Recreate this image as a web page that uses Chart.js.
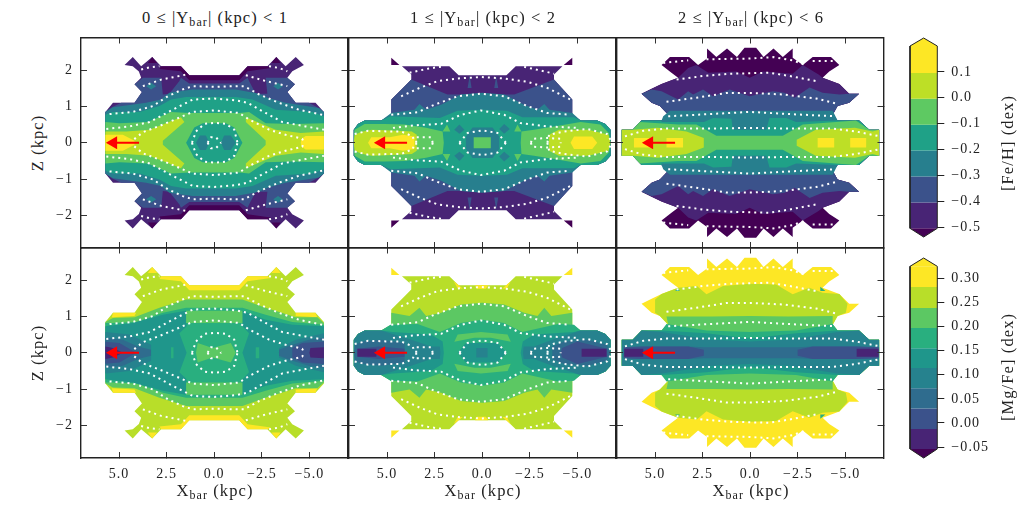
<!DOCTYPE html>
<html>
<head>
<meta charset="utf-8">
<script src="https://cdn.jsdelivr.net/npm/chart.js@4"></script>
<style>
  html, body { margin: 0; background: #fff; }
  #fig { position: relative; width: 1019px; height: 510px; overflow: hidden; }
  canvas { position: absolute; }
  .lab { position: absolute; font: 16.5px 'Liberation Serif', serif; letter-spacing: 1.1px; color: #222; white-space: nowrap; transform: translate(-50%, -50%); }
  .lab.rot { transform: translate(-50%, -50%) rotate(-90deg); }
  .lab sub { font-size: 12px; line-height: 0; vertical-align: -3px; }
</style>
</head>
<body>
<div id="fig"></div>
<script>
// tick values and labels
const xTicks = [5, 2.5, 0, -2.5, -5];
const xTickLabels = ['5.0', '2.5', '0.0', '\u22122.5', '\u22125.0'];
const zTicks = [2, 1, 0, -1, -2];
const zTickLabels = ['2', '1', '0', '\u22121', '\u22122'];
const feTicks = [0.1, 0, -0.1, -0.2, -0.3, -0.4, -0.5];
const feTickLabels = ['0.1', '0.0', '\u22120.1', '\u22120.2', '\u22120.3', '\u22120.4', '\u22120.5'];
const mgTicks = [0.3, 0.25, 0.2, 0.15, 0.1, 0.05, 0, -0.05];
const mgTickLabels = ['0.30', '0.25', '0.20', '0.15', '0.10', '0.05', '0.00', '\u22120.05'];

// colour bands, lowest first
const feColors = ['#440154', '#482475', '#3b528b', '#277f8e', '#1fa187', '#5ec962', '#bddf26', '#fde725'];
const mgColors = ['#440154', '#482475', '#3b528b', '#2f6c8e', '#26828e', '#1f968b', '#29af7f', '#5cc863', '#b8de29', '#fde725'];
const feLevels = [-0.505, -0.405, -0.305, -0.204, -0.104, -0.004, 0.096, 0.2];
const mgLevels = [-0.054, -0.0127, 0.03, 0.072, 0.114, 0.155, 0.197, 0.2384, 0.282, 0.325];

// all maps are mirrored about Z = 0, so only the upper edge (x, z) of each contour is listed
const out1 = [[5.72,0],[5.72,.85],[5.32,1.10],[4.19,1.10],[3.80,1.40],[4.19,1.61],[3.84,1.79],[3.96,1.96],[4.28,2.11],[4.71,2.14],[4.28,2.36],[3.84,2.11],[3.26,2.36],[2.79,2.11],[1.75,2.11],[1.31,1.86],[-1.31,1.86],[-1.75,2.11],[-2.79,2.11],[-3.26,2.36],[-3.75,2.11],[-4.28,2.36],[-4.71,2.14],[-4.10,1.97],[-3.84,1.79],[-4.24,1.61],[-3.84,1.40],[-4.28,1.10],[-5.32,1.10],[-5.76,.85],[-5.76,0]];
const cap1 = [[2.79,2.11],[1.75,2.11],[1.31,1.86],[-1.31,1.86],[-1.75,2.11],[-2.79,2.11],[-2.97,2.06],[-1.75,1.97],[-1.31,1.72],[1.31,1.72],[1.75,1.97],[2.88,2.03],[2.79,2.11]];
const spike1a = [[3.26,2.36],[3.0,2.2],[3.49,2.2],[3.26,2.36]];
const spike1b = [[-3.26,2.36],[-3.49,2.2],[-3.0,2.2],[-3.26,2.36]];

const feBands1 = [
  [1, out1], [0, cap1], [0, spike1a], [0, spike1b],
  [2, [[5.72,0],[5.72,.85],[5.38,.98],[4.89,1.10],[4.19,1.10],[3.80,1.40],[4.19,1.61],[3.75,1.79],[2.79,1.79],[2.70,1.33],[2.36,1.35],[1.83,1.70],[1.75,1.79],[1.31,1.63],[-1.31,1.63],[-1.75,1.79],[-1.83,1.70],[-2.18,1.35],[-2.79,1.35],[-2.70,1.79],[-3.84,1.79],[-4.24,1.61],[-3.84,1.40],[-4.28,1.10],[-4.97,1.10],[-5.41,.98],[-5.76,.85],[-5.76,0]]],
  [3, [[3.58,1.56],[3.32,1.65],[3.05,1.56],[3.32,1.47],[3.58,1.56]]],
  [3, [[-3.1,1.56],[-3.35,1.65],[-3.6,1.56],[-3.35,1.47],[-3.1,1.56]]],
  [3, [[5.72,0],[5.72,.85],[5.32,.98],[3.58,1.10],[2.79,1.19],[2.36,1.38],[1.13,1.47],[-1.13,1.47],[-2.36,1.35],[-2.79,1.24],[-3.75,1.10],[-5.5,.96],[-5.76,.85],[-5.76,0]]],
  [4, [[5.72,0],[5.72,.77],[5.32,.85],[3.93,.85],[2.88,1.01],[2.27,1.19],[1.48,1.26],[-1.13,1.26],[-2.01,1.19],[-3.23,.91],[-5.15,.85],[-5.76,.73],[-5.76,0]]],
  [5, [[5.72,0],[5.72,.57],[4.98,.54],[3.49,.57],[2.27,.85],[1.31,.82],[-1.31,.82],[-1.83,.85],[-2.7,.54],[-4.1,.52],[-5.76,.54],[-5.76,0]]],
  [6, [[5.72,0],[5.72,.31],[4.62,.31],[3.4,.36],[1.75,.70],[1.57,.57],[2.7,.055],[2.7,0],[-2.7,0],[-2.7,.06],[-1.66,.57],[-1.66,.70],[-3.23,.36],[-4.54,.27],[-5.76,.31],[-5.76,0]]],
  [7, [[5.72,0],[5.72,.22],[4.8,.22],[4.19,.055],[4.19,0],[-4.54,0],[-4.59,.11],[-4.8,.185],[-5.76,.185],[-5.76,0]]],
  [4, [[1.48,0],[1.05,.42],[.61,.54],[-.61,.54],[-1.05,.42],[-1.48,0]]],
  [3, [[.96,0],[.75,.20],[.44,.20],[.26,0],[-.35,0],[-.52,.20],[-.87,.20],[-1.13,0]]]
];

const mgBands1 = [
  [8, out1], [9, cap1], [9, spike1a], [9, spike1b],
  [9, [[5.32,1.10],[4.10,1.10],[4.19,1.01],[5.38,.98],[5.32,1.10]]],
  [9, [[-4.28,1.10],[-5.32,1.10],[-5.41,.98],[-4.28,1.01],[-4.28,1.10]]],
  [7, [[5.72,0],[5.72,.85],[5.32,.96],[4.19,.98],[2.88,1.24],[1.48,1.47],[-1.48,1.47],[-2.7,1.24],[-4.28,.98],[-5.41,.98],[-5.76,.82],[-5.76,0]]],
  [6, [[5.72,0],[5.72,.82],[5.32,.82],[4.10,.85],[2.7,1.10],[1.48,1.24],[-1.48,1.24],[-2.7,1.05],[-4.10,.85],[-5.76,.77],[-5.76,0]]],
  [5, [[5.72,0],[5.72,.73],[4.28,.82],[2.7,1.05],[1.48,1.16],[1.45,.73],[1.83,.54],[1.45,0],[-1.48,0],[-1.83,.54],[-1.48,.73],[-1.48,1.16],[-2.7,.91],[-4.10,.77],[-5.76,.73],[-5.76,0]]],
  [7, [[1.48,.82],[1.48,1.16],[-1.48,1.16],[-1.48,.82],[1.48,.82]]],
  [4, [[5.72,0],[5.72,.57],[4.45,.50],[3.32,.22],[3.32,0],[-3.4,0],[-3.4,.13],[-4.28,.36],[-5.76,.54],[-5.76,0]]],
  [3, [[5.72,0],[5.72,.41],[4.8,.36],[4.01,.17],[3.32,.08],[3.32,0],[-3.4,0],[-3.4,.08],[-4.1,.22],[-4.97,.36],[-5.76,.41],[-5.76,0]]],
  [2, [[5.72,0],[5.72,.30],[4.98,.27],[4.1,0],[-4.1,0],[-4.1,.13],[-4.63,.27],[-5.76,.31],[-5.76,0]]],
  [1, [[5.72,0],[5.72,.175],[5.32,.13],[4.8,0],[-5.0,0],[-5.05,.13],[-5.76,.15],[-5.76,0]]],
  [6, [[2.27,0],[2.27,.15],[2.14,.15],[2.14,0]]],
  [6, [[-2.18,0],[-2.18,.15],[-2.36,.15],[-2.36,0]]],
  [7, [[.96,0],[.87,.27],[.09,.13],[-.87,.27],[-1.13,0]]]
];

const lobeL2 = [[6.75,0],[6.75,.36],[6.53,.52],[6.18,.61],[5.31,.61]];
const lobeR2 = [[-5.17,.61],[-6.04,.61],[-6.47,.52],[-6.74,.36],[-6.74,0]];
const out2 = [...lobeL2,[4.78,.77],[4.78,1.19],[4.17,1.51],[3.73,1.74],[3.73,1.88],[4.22,2.11],[1.73,2.11],[1.24,1.86],[-1.27,1.86],[-1.76,2.11],[-4.21,2.11],[-3.77,1.88],[-3.77,1.74],[-4.73,1.19],[-4.73,.77],...lobeR2];
const spike2a = [[4.78,2.34],[4.35,2.14],[4.78,2.14],[4.78,2.34]];
const spike2b = [[-4.73,2.34],[-4.73,2.14],[-4.28,2.14],[-4.73,2.34]];

const feBands2 = [
  [1, out2], [0, spike2a], [0, spike2b],
  [2, [...lobeL2,[4.78,.77],[4.78,1.19],[4.17,1.51],[3.73,1.74],[1.83,1.33],[-1.68,1.33],[-3.77,1.74],[-4.73,1.19],[-4.73,.77],...lobeR2]],
  [2, [[.77,1.51],[.66,1.86],[.56,1.51],[.77,1.51]]],
  [2, [[-.63,1.51],[-.73,1.84],[-.84,1.51],[-.63,1.51]]],
  [3, [...lobeL2,[4.78,.82],[3.56,.91],[3.30,1.07],[2.95,.91],[2.16,1.05],[1.12,1.33],[0,1.38],[-1.15,1.33],[-2.20,1.05],[-2.90,.91],[-3.26,1.07],[-3.53,.91],[-4.73,.82],...lobeR2]],
  [4, [...lobeL2,[4.82,.73],[2.23,.68],[1.3,.88],[0,.91],[-1.3,.88],[-2.11,.70],[-4.82,.70],...lobeR2]],
  [3, [[.86,0],[.86,.175],[.51,.42],[-.54,.42],[-.89,.175],[-.89,0]]],
  [3, [[1.47,.36],[1.2,.50],[.94,.36],[1.2,.25],[1.47,.36]]],
  [3, [[-1.15,.52],[-1.45,.38],[-1.15,.25],[-.89,.38],[-1.15,.52]]],
  [5, [[6.75,0],[6.7,.36],[6.18,.52],[5.13,.52],[4.08,.50],[2.95,.41],[2.08,.31],[2.02,0],[-2.02,0],[-2.06,.31],[-2.72,.36],[-3.77,.45],[-5.17,.57],[-6.21,.50],[-6.65,.27],[-6.74,0]]],
  [5, [[1.85,.50],[1.68,.31],[2.08,.31],[1.85,.50]]],
  [5, [[-1.85,.50],[-1.68,.31],[-2.06,.31],[-1.85,.50]]],
  [6, [[6.75,0],[6.7,.22],[6.34,.30],[5.8,.36],[4.75,.34],[3.7,.31],[3.44,.22],[3.44,0],[-3.51,0],[-3.51,.22],[-4.03,.36],[-5.58,.36],[-6.63,.22],[-6.74,0]]],
  [7, [[6.0,0],[5.83,.15],[4.87,.15],[4.17,.22],[3.56,.175],[3.56,0],[-4.64,0],[-4.82,.175],[-5.78,.175],[-6.04,0]]],
  [5, [[.45,0],[.45,.15],[-.45,.15],[-.45,0]]]
];

const mgBands2 = [
  [8, out2], [9, spike2a], [9, spike2b],
  [9, [[1.5,1.97],[1.03,1.77],[1.29,1.77],[1.5,1.97]]],
  [9, [[.38,1.86],[-.31,1.86],[-.19,1.76],[.28,1.76],[.38,1.86]]],
  [9, [[-1.5,1.97],[-1.29,1.77],[-1.06,1.77],[-1.5,1.97]]],
  [7, [...lobeL2,[4.78,.77],[4.78,1.10],[3.82,1.01],[3.30,1.24],[2.95,1.01],[2.16,1.10],[1.12,1.33],[0,1.38],[-1.15,1.33],[-2.20,1.10],[-2.90,1.01],[-3.26,1.24],[-3.63,1.01],[-4.73,1.10],[-4.73,.77],...lobeR2]],
  [6, [...lobeL2,[4.82,.77],[3.40,.79],[2.23,.57],[1.12,.82],[0,.91],[-1.15,.82],[-2.11,.57],[-3.98,.79],[-4.82,.77],...lobeR2]],
  [7, [[1.47,.30],[1.29,.50],[.07,.57],[-1.33,.50],[-1.5,.30],[-.45,.41],[.42,.41],[1.47,.30]]],
  [5, [...lobeL2,[4.71,.57],[2.69,.50],[2.08,.31],[2.02,0],[-2.02,0],[-2.13,.31],[-2.72,.50],[-4.82,.57],...lobeR2]],
  [4, [...lobeL2,[3.73,.36],[2.69,.175],[2.23,.175],[2.20,0],[-2.14,0],[-2.18,.175],[-2.72,.175],[-3.68,.36],...lobeR2]],
  [3, [[6.75,0],[6.66,.22],[6.34,.31],[5.31,.36],[4.08,.27],[4.08,0],[-3.68,0],[-3.68,.175],[-4.29,.31],[-5.55,.36],[-6.53,.22],[-6.74,0]]],
  [2, [[6.56,0],[6.56,.11],[5.45,.175],[4.08,.11],[4.08,0],[-4.12,0],[-4.2,.13],[-5.0,.31],[-6.56,.11],[-6.56,0]]],
  [1, [[6.56,0],[6.56,.11],[5.56,.11],[5.56,0],[-5.22,0],[-5.22,.11],[-6.53,.11],[-6.53,0]]],
  [5, [[1.29,0],[.86,.27],[-.80,.27],[-1.29,0]]],
  [4, [[.31,0],[.31,.13],[-.28,.13],[-.28,0]]]
];

const lobeL3 = [[6.75,0],[6.75,.36],[6.18,.36],[5.71,.61],[4.66,.61]];
const lobeR3 = [[-4.59,.61],[-5.72,.61],[-6.25,.36],[-6.77,.36],[-6.77,0]];
const sideL3 = [[4.31,.77],[4.75,1.01],[5.18,1.10],[5.71,1.35]];
const sideR3 = [[-5.20,1.35],[-5.72,1.35],[-5.20,1.10],[-4.59,1.01],[-4.33,.77],...lobeR3];
const out3 = [...lobeL3,...sideL3,[5.18,1.49],[4.66,1.62],[3.79,1.79],[4.14,1.93],[4.66,2.14],[4.22,2.36],[3.21,2.36],[2.74,2.14],[2.27,2.32],[2.27,2.60],[1.78,2.36],[1.22,2.60],[.70,2.36],[.30,2.62],[-.31,2.62],[-.70,2.36],[-1.22,2.60],[-1.71,2.36],[-2.23,2.60],[-2.23,2.34],[-2.76,2.14],[-3.28,2.36],[-4.24,2.36],[-4.68,2.14],[-4.15,1.96],[-3.80,1.79],[-4.68,1.62],...sideR3];

const feBands3 = [
  [0, out3],
  [1, [...lobeL3,...sideL3,[5.18,1.49],[4.66,1.62],[3.79,1.79],[3.26,2.06],[2.84,2.14],[2.20,1.93],[.73,1.96],[.03,1.79],[-.66,1.96],[-2.23,1.90],[-2.76,2.14],[-3.59,1.88],[-3.80,1.79],[-4.68,1.62],...sideR3]],
  [2, [...lobeL3,...sideL3,[5.18,1.47],[4.66,1.42],[3.79,1.19],[3.26,1.42],[3.0,1.33],[2.48,1.47],[1.96,1.28],[1.08,1.47],[.03,1.28],[-1.19,1.42],[-1.80,1.38],[-2.32,1.24],[-3.12,1.52],[-3.80,1.38],[-4.68,1.33],...sideR3]],
  [3, [...lobeL3,[4.57,.73],[4.22,.88],[0,.88],[-4.33,.88],...lobeR3]],
  [4, [...lobeL3,[4.66,.57],[2.43,.57],[1.95,.68],[.99,.66],[.91,.36],[-.84,.36],[-1.01,.68],[-1.89,.68],[-2.41,.57],...lobeR3]],
  [5, [[6.75,0],[6.75,.36],[6.18,.36],[5.8,.57],[3.79,.50],[2.83,.50],[1.78,.19],[-1.71,.19],[-2.76,.50],[-5.55,.61],[-6.25,.36],[-6.77,.36],[-6.77,0]]],
  [6, [[6.75,0],[6.75,.36],[6.14,.36],[4.87,.41],[3.35,.31],[2.44,.13],[2.44,0],[-2.44,0],[-2.44,.08],[-3.44,.36],[-5.5,.41],[-6.42,.31],[-6.77,.36],[-6.77,0]]],
  [7, [[6.11,0],[6.11,.13],[5.27,.13],[5.27,0],[4.4,0],[4.4,.13],[3.53,.13],[3.53,0],[-3.54,0],[-3.54,.13],[-4.41,.13],[-4.41,0],[-5.25,0],[-5.25,.13],[-6.09,.13],[-6.09,0]]]
];

const mgBands3 = [
  [9, out3],
  [8, [...lobeL3,[4.31,.77],[4.75,1.01],[5.0,1.10],[5.0,1.47],[4.66,1.62],[3.79,1.79],[2.8,1.84],[2.3,1.61],[1.43,1.84],[.03,1.90],[-1.36,1.88],[-2.23,1.61],[-3.1,1.79],[-3.8,1.65],[-4.68,1.62],[-5.11,1.35],[-5.02,1.10],[-4.59,1.01],[-4.33,.77],...lobeR3]],
  [6, [[3.79,1.78],[3.95,1.70],[3.7,1.70],[3.79,1.78]]],
  [6, [[-3.68,1.82],[-3.68,1.70],[-3.95,1.70],[-3.68,1.82]]],
  [7, [...lobeL3,[4.31,.77],[4.4,1.0],[2.0,1.0],[.03,1.01],[-2,1.0],[-4.33,1.01],[-4.33,.77],...lobeR3]],
  [6, [...lobeL3,[4.40,.79],[2.29,.61],[.03,.57],[-2.41,.61],[-4.33,.79],...lobeR3]],
  [5, [...lobeL3,[2.29,.54],[.03,.39],[-2.41,.54],...lobeR3]],
  [4, [[6.75,0],[6.75,.36],[6.18,.36],[5.71,.61],[4.66,.57],[2.04,.36],[.03,.31],[-2.06,.36],[-4.59,.57],[-5.72,.61],[-6.25,.36],[-6.77,.36],[-6.77,0]]],
  [3, [[6.66,0],[6.66,.15],[5.62,.175],[3.26,.175],[2.44,.15],[-2.49,.15],[-3.28,.175],[-5.55,.175],[-6.77,.15],[-6.77,0]]],
  [2, [[6.62,0],[6.62,.15],[5.62,.175],[3.26,.175],[2.44,.08],[2.44,0],[-2.49,0],[-2.49,.08],[-3.28,.175],[-5.55,.175],[-6.74,.15],[-6.74,0]]],
  [1, [[6.62,0],[6.62,.11],[5.62,.11],[5.62,0],[-5.59,0],[-5.59,.11],[-6.74,.11],[-6.74,0]]]
];

// white dotted contours, upper half again
const dots1 = [
  [[3.84,2.02],[3.4,2.08],[2.88,2.11]],
  [[-2.88,2.11],[-3.4,2.06],[-3.84,1.97]],
  [[3.75,1.56],[2.79,1.74],[1.83,1.84],[1.48,1.88]],
  [[-1.66,1.86],[-2.7,1.70],[-3.84,1.56]],
  [[5.5,.79],[4.28,.85],[3.23,1.01],[2.44,1.28],[1.66,1.47],[1.13,1.56],[0,1.54],[-1.13,1.56],[-1.57,1.56],[-2.36,1.33],[-3.4,1.10],[-4.45,.91],[-5.67,.77]],
  [[5.67,.38],[4.45,.45],[3.4,.57],[2.18,.91],[1.13,1.19],[0,1.22],[-1.13,1.17],[-1.75,1.10],[-2.7,.82],[-3.58,.57],[-4.8,.45],[-5.76,.36]],
  [[4.2,.1],[3.75,.29],[2.7,.50],[1.66,.73],[1.13,.85],[0,.89],[-1.31,.82],[-1.83,.64],[-2.88,.36],[-3.75,.22],[-4.62,.11],[-4.71,0]],
  [[1.17,0],[.96,.31],[.52,.52],[0,.55],[-.61,.52],[-1.05,.36],[-1.22,0]],
  [[.35,0],[.17,.15],[-.09,.15],[-.35,0]]
];
const dots2 = [
  [[3.82,1.93],[2.86,2.04],[1.99,2.11]],
  [[-2.2,2.09],[-3.25,1.97],[-3.77,1.90]],
  [[4.26,1.28],[3.3,1.51],[2.34,1.70],[1.29,1.77],[.07,1.81],[-1.15,1.77],[-2.37,1.68],[-3.42,1.51],[-4.64,1.19]],
  [[4.78,.77],[3.39,.84],[2.51,1.05],[1.29,1.28],[.07,1.35],[-1.15,1.28],[-2.37,1.01],[-3.42,.82],[-4.64,.77]],
  [[4.69,.41],[3.56,.48],[2.16,.52],[1.12,.77],[.07,.89],[-1.15,.77],[-2.02,.54],[-3.42,.45],[-4.99,.41]],
  [[6.7,.24],[6.0,.33],[4.87,.31],[4.26,.31],[3.65,.175],[3.56,0]],
  [[3.47,0],[3.47,.15],[2.69,.15],[2.6,0]],
  [[-2.55,0],[-2.64,.11],[-3.42,.13],[-4.12,.11],[-4.12,0]],
  [[-3.42,0],[-3.51,.22],[-4.29,.31],[-5.51,.38],[-6.56,.24],[-6.74,.08]],
  [[1.2,0],[.77,.27],[0,.34],[-.8,.27],[-1.24,0]]
];
const dots3 = [
  [[4.57,2.2],[3.26,2.27]],
  [[2.3,2.3],[.03,2.32],[-1.19,2.36],[-2.23,2.27],[-2.93,2.14]],
  [[-3.28,2.25],[-4.5,2.25]],
  [[3.87,1.74],[2.48,1.84],[1.08,1.90],[-1.01,1.93],[-2.06,1.84],[-3.46,1.70]],
  [[4.4,1.13],[2.83,1.24],[1.26,1.37],[-.14,1.37],[-1.71,1.33],[-3.46,1.22],[-4.59,1.07]],
  [[4.31,.73],[2.13,.79],[.03,.85],[-2.06,.79],[-4.5,.73]],
  [[6.58,.175],[5.62,.33],[4.4,.39],[2.13,.39],[.03,.41],[-2.06,.39],[-4.33,.39],[-5.55,.31],[-6.68,.19]]
];

// bar direction arrow
const arrowShaft = [[3.95,0],[5.2,0]];
const arrowHead = [[5.3,0]];

const fontFamily = "'Liberation Serif', serif";
const panelW = 268, panelH = 210;
const spacing = { id: 'spacing', beforeDraw: c => { c.ctx.letterSpacing = '1.1px'; } };

// rotate the ring so it starts at the left edge and ends at the right one:
// the filler clips a 'shape' to the x of the first and last point
function closedRing(upper) {
  const lower = upper.slice().reverse().map(p => [p[0], -p[1]]);
  const pts = upper.concat(lower);
  const xs = pts.map(p => p[0]);
  const start = xs.indexOf(Math.max(...xs));
  const end = xs.indexOf(Math.min(...xs));
  const turned = pts.slice(start).concat(pts.slice(0, start));
  return turned.concat([pts[start], pts[end]]).map(p => ({ x: p[0], y: p[1] }));
}

function toPoints(line, sign) {
  return line.map(p => ({ x: p[0], y: sign * p[1] }));
}

function addCanvas(left, top, w, h) {
  const c = document.createElement('canvas');
  c.width = w;
  c.height = h;
  c.style.left = left + 'px';
  c.style.top = top + 'px';
  document.getElementById('fig').appendChild(c);
  return c;
}

function addLabel(html, x, y, rot) {
  const d = document.createElement('div');
  d.className = rot ? 'lab rot' : 'lab';
  d.innerHTML = html;
  d.style.left = x + 'px';
  d.style.top = y + 'px';
  document.getElementById('fig').appendChild(d);
}

// fixed axis size, and no overhang padding, so the plot area stays where it is put
function fixSize(s, size) {
  if (s.isHorizontal()) s.height = size; else s.width = size;
  s.paddingLeft = s.paddingRight = s.paddingTop = s.paddingBottom = 0;
}

function axisStyle(values, labels, size, showLabels) {
  return {
    // border has to come after the grid layer, it reuses a value the grid computes
    border: { display: true, color: '#222', width: 1.4, z: 2 },
    grid: { drawOnChartArea: false, tickLength: -6, tickColor: '#333', tickWidth: 1, z: 1 },
    afterBuildTicks: s => { s.ticks = values.map(v => ({ value: v })); },
    afterFit: s => fixSize(s, size),
    ticks: {
      display: showLabels,
      padding: 14,
      color: '#222',
      font: { family: fontFamily, size: 14 },
      maxRotation: 0,
      autoSkip: false,
      callback: (v, i) => labels[i]
    }
  };
}

function drawPanel(left, top, bands, colors, dots, showX, showZ) {
  const datasets = [];
  datasets.push({ data: toPoints(arrowHead, 1), pointStyle: 'triangle', pointRotation: 270, pointRadius: 7.5, pointBackgroundColor: '#ff0000', pointBorderWidth: 0 });
  datasets.push({ data: toPoints(arrowShaft, 1), showLine: true, borderColor: '#ff0000', borderWidth: 2, pointRadius: 0 });
  dots.forEach(line => {
    [1, -1].forEach(sign => {
      datasets.push({ data: toPoints(line, sign), showLine: true, borderColor: '#fff', borderWidth: 2, borderDash: [2, 4], pointRadius: 0 });
    });
  });
  // later datasets are painted first, so the lowest band goes last
  bands.slice().reverse().forEach(b => {
    datasets.push({ data: closedRing(b[1]), showLine: true, fill: 'shape', backgroundColor: colors[b[0]], borderWidth: 0, pointRadius: 0 });
  });
  // the top and right axes end up 4px wider than asked, hence 8 and 36 here
  new Chart(addCanvas(left - 30, top - 8, panelW + 36, panelH + 34), {
    type: 'scatter',
    data: { datasets },
    plugins: [spacing],
    options: {
      responsive: false,
      animation: false,
      events: [],
      layout: { padding: 0 },
      plugins: { legend: { display: false }, tooltip: { enabled: false } },
      scales: {
        x: { type: 'linear', min: -7, max: 7, reverse: true, position: 'bottom', ...axisStyle(xTicks, xTickLabels, 26, showX) },
        xTop: { type: 'linear', min: -7, max: 7, reverse: true, position: 'top', ...axisStyle(xTicks, xTickLabels, 4, false) },
        y: { type: 'linear', min: -2.9, max: 2.9, position: 'left', ...axisStyle(zTicks, zTickLabels, 30, showZ) },
        yRight: { type: 'linear', min: -2.9, max: 2.9, position: 'right', ...axisStyle(zTicks, zTickLabels, 2, false) }
      }
    }
  });
}

function drawColorbar(top, h, levels, colors, tipLow, tipHigh, ticks, labels) {
  const rect = (lo, hi) => [{ x: 0, y: lo }, { x: 0, y: hi }, { x: 1, y: hi }, { x: 1, y: lo }];
  const tip = (base, end) => [{ x: 0, y: base }, { x: 0.5, y: end }, { x: 1, y: base }];
  const n = levels.length;
  const datasets = [{
    data: [{ x: 0, y: levels[0] }, { x: 0.5, y: tipLow }, { x: 1, y: levels[0] }, { x: 1, y: levels[n - 1] }, { x: 0.5, y: tipHigh }, { x: 0, y: levels[n - 1] }, { x: 0, y: levels[0] }],
    showLine: true, borderColor: '#222', borderWidth: 1, pointRadius: 0, clip: false
  }];
  const shape = (data, color) => ({ data, showLine: true, fill: 'shape', backgroundColor: color, borderWidth: 0, pointRadius: 0 });
  datasets.push(shape(tip(levels[n - 1], tipHigh), colors[n - 1]));
  for (let i = n - 1; i > 0; i--) {
    datasets.push(shape(rect(levels[i - 1], levels[i]), colors[i]));
  }
  datasets.push(shape(tip(levels[0], tipLow), colors[0]));
  new Chart(addCanvas(905, top - 4, 114, h + 8), {
    type: 'scatter',
    data: { datasets },
    plugins: [spacing],
    options: {
      responsive: false,
      animation: false,
      events: [],
      layout: { padding: { left: 5, top: 4, bottom: 4 } },
      plugins: { legend: { display: false }, tooltip: { enabled: false } },
      scales: {
        x: { type: 'linear', min: 0, max: 1, display: false },
        y: {
          type: 'linear', min: tipLow, max: tipHigh, position: 'right',
          border: { display: false },
          grid: { drawOnChartArea: false, tickLength: 7, tickColor: '#222', tickWidth: 1 },
          afterBuildTicks: s => { s.ticks = ticks.map(v => ({ value: v })); },
          afterFit: s => fixSize(s, 81.7),
          ticks: { padding: 7, color: '#222', font: { family: fontFamily, size: 14 }, autoSkip: false, callback: (v, i) => labels[i] }
        }
      }
    }
  });
}

const lefts = [81, 349, 617];
const tops = [38, 248];

drawPanel(lefts[0], tops[0], feBands1, feColors, dots1, false, true);
drawPanel(lefts[1], tops[0], feBands2, feColors, dots2, false, false);
drawPanel(lefts[2], tops[0], feBands3, feColors, dots3, false, false);
drawPanel(lefts[0], tops[1], mgBands1, mgColors, dots1, true, true);
drawPanel(lefts[1], tops[1], mgBands2, mgColors, dots2, true, false);
drawPanel(lefts[2], tops[1], mgBands3, mgColors, dots3, true, false);

drawColorbar(38.3, 199.7, feLevels, feColors, -0.5385, 0.231, feTicks, feTickLabels);
drawColorbar(258.3, 200, mgLevels, mgColors, -0.0728, 0.3423, mgTicks, mgTickLabels);

const titles = ['0 \u2264 |Y<sub>bar</sub>| (kpc) &lt; 1', '1 \u2264 |Y<sub>bar</sub>| (kpc) &lt; 2', '2 \u2264 |Y<sub>bar</sub>| (kpc) &lt; 6'];
lefts.forEach((l, i) => {
  addLabel(titles[i], l + panelW / 2, 18);
  addLabel('X<sub>bar</sub> (kpc)', l + panelW / 2, 491);
});
addLabel('Z (kpc)', 38, 143, true);
addLabel('Z (kpc)', 38, 353, true);
addLabel('[Fe/H] (dex)', 1008, 143, true);
addLabel('[Mg/Fe] (dex)', 1008, 367, true);
</script>
</body>
</html>
